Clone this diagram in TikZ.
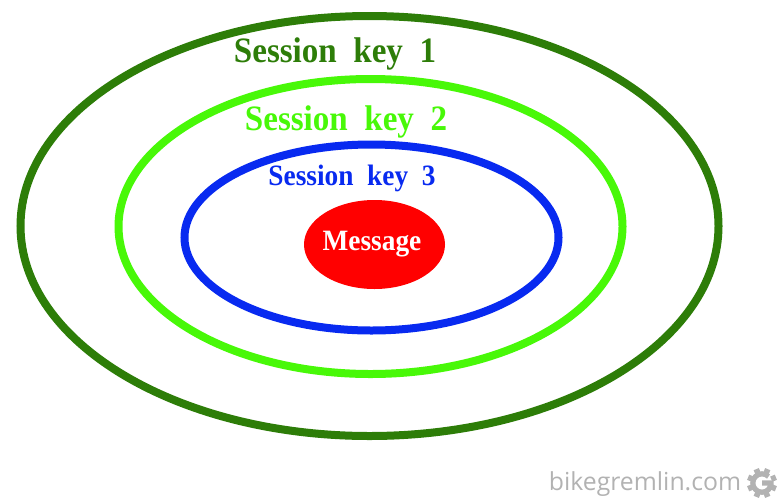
\documentclass[tikz,border=0pt]{standalone}
\usepackage{graphicx}
\usepackage{fontspec}
\setmainfont{Liberation Serif}
\newfontfamily\markfont{Open Sans}
\definecolor{keyone}{RGB}{45,125,8}
\definecolor{keytwo}{RGB}{72,248,8}
\definecolor{keythree}{RGB}{8,42,240}
\definecolor{markgray}{RGB}{178,178,178}
\newcommand{\tallword}[1]{\scalebox{1}[1.08]{#1}}
\tikzset{every picture/.style={line width=0.75pt}}
\tikzset{
	keyring/.style={line width=6pt},
	keylabel/.style={font=\bfseries\fontsize{24.8}{28}\selectfont,inner sep=0pt,anchor=base},
	smalllabel/.style={font=\bfseries\fontsize{20.5}{24}\selectfont,inner sep=0pt,anchor=base}
}

\begin{document}
\begin{tikzpicture}[x=0.75pt,y=0.75pt,yscale=-1,xscale=1]
		\useasboundingbox (0,0) rectangle (780,500);
		
		%Shape: Ellipse [id:outer]
		\draw [keyone,keyring] (369.5,226) ellipse (349 and 210);
		%Shape: Ellipse [id:middle]
		\draw [keytwo,keyring] (370.5,226.5) ellipse (252 and 147.5);
		%Shape: Ellipse [id:inner]
		\draw [keythree,keyring] (371.5,237.5) ellipse (187 and 93);
		%Shape: Ellipse [id:message]
		\draw [fill=red,draw=none] (374.5,244.5) ellipse (70.5 and 44.5);
		
		% Text Node
		\node [keylabel,text=keyone] (keyA) at (335,62.5) {\tallword{Session\ \ key\ \ 1}};
		% Text Node
		\node [keylabel,text=keytwo] (keyB) at (346,130) {\tallword{Session\ \ key\ \ 2}};
		% Text Node
		\node [smalllabel,text=keythree] (keyC) at (352,185) {\tallword{Session\ \ key\ \ 3}};
		% Text Node
		\node [smalllabel,text=white] (msg) at (372,250.5) {\tallword{Message}};
		% Text Node
		\node [font=\markfont\fontsize{18.6}{22}\selectfont,text=markgray,inner sep=0pt] (site) at (645,484) {bikegremlin.com};
		
		%Shape: Gear
		\foreach \ang in {0,45,...,315}
			\draw [markgray,line width=4.2pt] (762,483) ++(\ang+22.5:10) -- ++(\ang+22.5:5);
		\draw [markgray,line width=3.9pt] (768.5,476.5) arc (-45:-345:9.2 and 9.2) -- (771,483) -- (762,483);
		
\end{tikzpicture}
\end{document}
